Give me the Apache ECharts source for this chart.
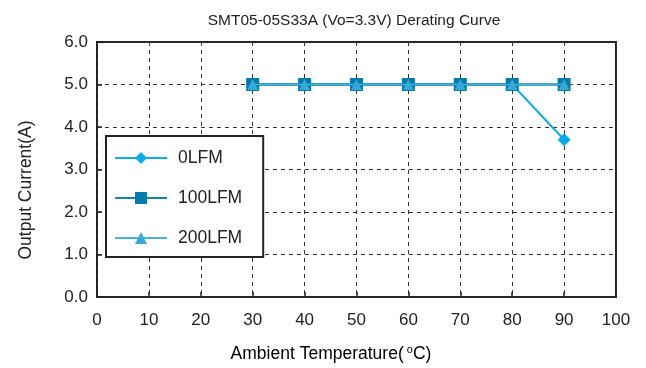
<!DOCTYPE html>
<html><head><meta charset="utf-8">
<script src="https://cdn.jsdelivr.net/npm/echarts@6/dist/echarts.min.js"></script>
<style>html,body{margin:0;padding:0;background:#fff}#c{width:646px;height:368px}</style>
</head><body><div id="c"></div>
<script>
const temps = [30, 40, 50, 60, 70, 80, 90];
const lfm0 = [5.0, 5.0, 5.0, 5.0, 5.0, 5.0, 3.7];
const lfm100 = [5.0, 5.0, 5.0, 5.0, 5.0, 5.0, 5.0];
const lfm200 = [5.0, 5.0, 5.0, 5.0, 5.0, 5.0, 5.0];
const seriesNames = ['0LFM', '100LFM', '200LFM'];
const titleText = 'SMT05-05S33A (Vo=3.3V) Derating Curve';

const F = '"Liberation Sans", Arial, Helvetica, sans-serif';
const pair = arr => temps.map((t, i) => [t, arr[i]]);
const chart = echarts.init(document.getElementById('c'), null, {renderer: 'canvas'});
chart.setOption({
  animation: false,
  textStyle: {fontFamily: F},
  title: {text: titleText, left: 349, top: 8, textAlign: 'center',
    textStyle: {fontSize: 15.5, fontWeight: 'normal', color: '#222', fontFamily: F}},
  grid: {left: 97, right: 30, top: 42, bottom: 71, show: true, borderColor: '#222', borderWidth: 2, backgroundColor: 'transparent'},
  xAxis: {type: 'value', min: 0, max: 100, interval: 10,
    axisLine: {show: false},
    axisTick: {show: true, inside: true, length: 5, lineStyle: {color: '#222', width: 1.5}},
    axisLabel: {fontSize: 17, color: '#222', margin: 15, fontFamily: F},
    splitLine: {show: true, lineStyle: {color: '#333', type: [4, 4], width: 1}}},
  yAxis: {type: 'value', min: 0, max: 6, interval: 1,
    axisLine: {show: false},
    axisTick: {show: true, inside: true, length: 5, lineStyle: {color: '#222', width: 1.5}},
    axisLabel: {fontSize: 17, color: '#222', margin: 9, fontFamily: F, formatter: v => v.toFixed(1)},
    splitLine: {show: true, lineStyle: {color: '#333', type: [4, 4], width: 1}}},
  legend: {orient: 'vertical', left: 106, top: 136,
    backgroundColor: '#fff', borderColor: '#222', borderWidth: 2,
    padding: [13, 21, 10, 8], itemGap: 22, itemWidth: 52, itemHeight: 15,
    textStyle: {fontSize: 17.5, color: '#222', fontFamily: F, padding: [0, 0, 0, 6]},
    data: seriesNames},
  graphic: [
    {type: 'text', x: 26, y: 190, rotation: Math.PI / 2,
      style: {text: 'Output Current(A)', fill: '#222', font: '17.5px ' + F, textAlign: 'center', textVerticalAlign: 'middle'}},
    {type: 'text', x: 331, y: 354,
      style: {text: '{a|Ambient Temperature(}{s| o}{a|C)}', textAlign: 'center', textVerticalAlign: 'middle',
        rich: {a: {fontSize: 17.5, fontFamily: F, color: '#222'}, s: {fontSize: 11, fontFamily: F, color: '#222', verticalAlign: 'top', padding: [0, 0, 9, 0]}}}}
  ],
  series: [
    {name: seriesNames[0], type: 'line', data: pair(lfm0), symbol: 'diamond', symbolSize: 13,
      lineStyle: {color: '#12A9E6', width: 2}, itemStyle: {color: '#0AAAEE'}, z: 2},
    {name: seriesNames[1], type: 'line', data: pair(lfm100), symbol: 'rect', symbolSize: 13,
      lineStyle: {color: '#1580B0', width: 2.5}, itemStyle: {color: '#0479AC'}, z: 3},
    {name: seriesNames[2], type: 'line', data: pair(lfm200), symbol: 'triangle', symbolSize: 11,
      lineStyle: {color: '#45B2DE', width: 1.5}, itemStyle: {color: '#38A8D6'}, z: 4}
  ]
});
</script></body></html>
